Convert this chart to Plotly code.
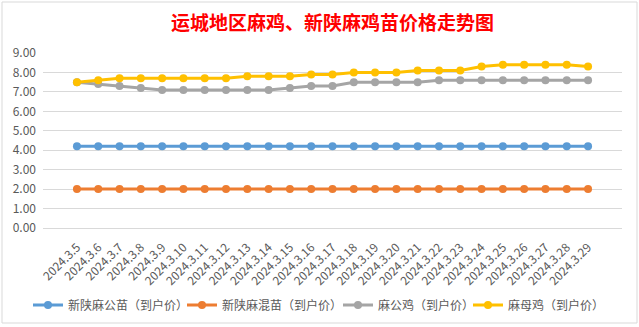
import plotly.graph_objects as go

dates = ["2024.3.5", "2024.3.6", "2024.3.7", "2024.3.8", "2024.3.9", "2024.3.10",
         "2024.3.11", "2024.3.12", "2024.3.13", "2024.3.14", "2024.3.15", "2024.3.16",
         "2024.3.17", "2024.3.18", "2024.3.19", "2024.3.20", "2024.3.21", "2024.3.22",
         "2024.3.23", "2024.3.24", "2024.3.25", "2024.3.26", "2024.3.27", "2024.3.28",
         "2024.3.29"]

xin_gong_miao = [4.2] * 25
xin_hun_miao = [2.0] * 25
ma_gong_ji = [7.5, 7.4, 7.3, 7.2, 7.1, 7.1, 7.1, 7.1, 7.1, 7.1, 7.2, 7.3, 7.3,
              7.5, 7.5, 7.5, 7.5, 7.6, 7.6, 7.6, 7.6, 7.6, 7.6, 7.6, 7.6]
ma_mu_ji = [7.5, 7.6, 7.7, 7.7, 7.7, 7.7, 7.7, 7.7, 7.8, 7.8, 7.8, 7.9, 7.9,
            8.0, 8.0, 8.0, 8.1, 8.1, 8.1, 8.3, 8.4, 8.4, 8.4, 8.4, 8.3]

series_names = ["新陕麻公苗（到户价）", "新陕麻混苗（到户价）", "麻公鸡（到户价）", "麻母鸡（到户价）"]
series_values = [xin_gong_miao, xin_hun_miao, ma_gong_ji, ma_mu_ji]
series_colors = ["#5B9BD5", "#ED7D31", "#A5A5A5", "#FFC000"]

W, H = 639, 327
L, R, T, B = 43, 17, 53, 99
pw, ph = W - L - R, H - T - B

# legend x start (pixels) of each entry's symbol
legend_px = [35, 189, 345, 475]
legend_keys = ["legend", "legend2", "legend3", "legend4"]

fig = go.Figure()
for name, vals, color, lk in zip(series_names, series_values, series_colors, legend_keys):
    fig.add_trace(go.Scatter(
        x=dates, y=vals, name=name, mode="lines+markers",
        line=dict(color=color, width=3),
        marker=dict(color=color, size=8),
        legend=lk,
    ))

def px_x(p):
    return (p - L) / pw

def px_y(p):
    return (H - B - p) / ph

fig.add_shape(type="rect", xref="paper", yref="paper",
              x0=px_x(2), x1=px_x(637), y0=px_y(323), y1=px_y(2),
              line=dict(color="#D9D9D9", width=1), layer="below")

legend_layouts = {}
for lk, lx in zip(legend_keys, legend_px):
    legend_layouts[lk] = dict(
        orientation="h", xref="container", x=(lx - 7) / W, xanchor="left",
        yref="container", y=(H - 305) / H, yanchor="middle",
        font=dict(size=12, color="#595959"), itemwidth=30,
        bgcolor="rgba(0,0,0,0)",
    )

fig.update_layout(
    width=W, height=H,
    margin=dict(l=L, r=R, t=T, b=B, autoexpand=False),
    paper_bgcolor="white", plot_bgcolor="white",
    font=dict(family="Noto Sans CJK SC", color="#595959"),
    title=dict(text="<b>运城地区麻鸡、新陕麻鸡苗价格走势图</b>",
               x=0.5, xref="paper", xanchor="center",
               y=1 - 23 / H, yanchor="middle", yref="container",
               font=dict(family="Noto Sans CJK SC", size=19, color="#FF0000")),
    xaxis=dict(type="category", tickangle=-45, showgrid=False, automargin=False,
               showline=False, ticks="", ticklabelstandoff=9,
               tickfont=dict(size=12, color="#595959")),
    yaxis=dict(range=[0, 9], dtick=1, tickformat=".2f", showgrid=True,
               gridcolor="#D9D9D9", gridwidth=1, zeroline=True, automargin=False,
               zerolinecolor="#D9D9D9", zerolinewidth=1, showline=False,
               ticks="", ticklabelstandoff=6,
               tickfont=dict(size=12, color="#595959")),
    showlegend=True,
    **legend_layouts,
)

fig.write_html("out.html")
